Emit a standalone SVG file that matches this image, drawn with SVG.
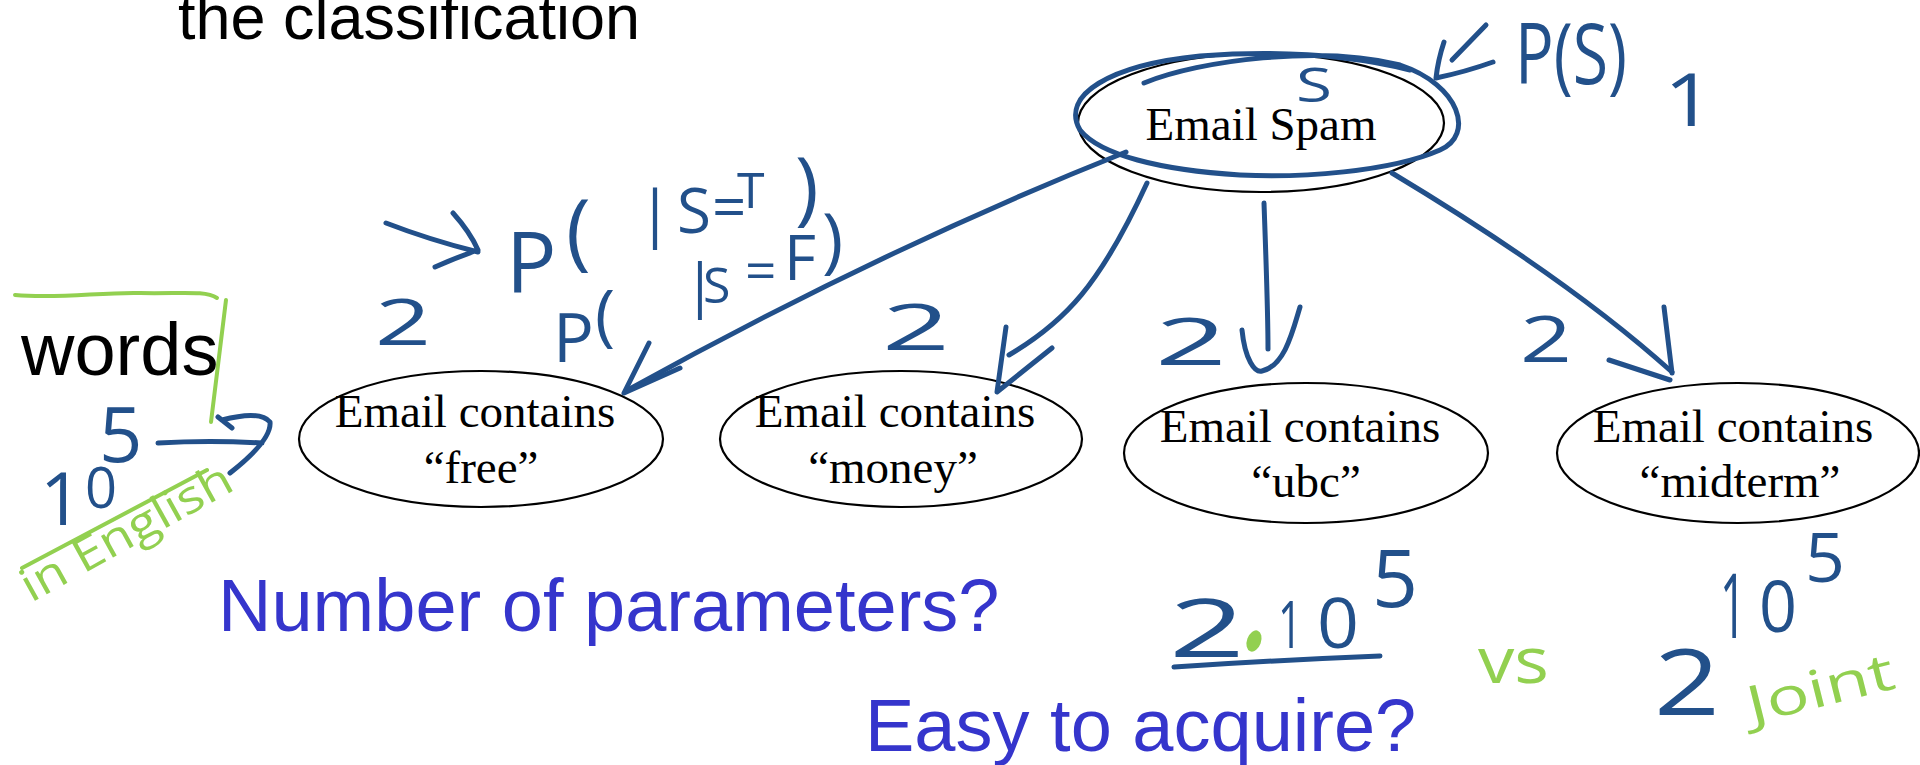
<svg xmlns="http://www.w3.org/2000/svg" width="1920" height="765" viewBox="0 0 1920 765">
  <style>
    .node ellipse { fill: none; stroke: #000; stroke-width: 2.2; }
    .lbl { font-family: "Liberation Serif", "Times New Roman", serif; font-size: 47px; fill: #000; text-anchor: middle; }
    .head { font-family: "Liberation Sans", Arial, sans-serif; fill: #000; }
    .q { font-family: "Liberation Sans", Arial, sans-serif; font-size: 74px; fill: #3535cc; }
    .ink { fill: none; stroke: #22508a; stroke-width: 5; stroke-linecap: round; stroke-linejoin: round; }
    .inkg { fill: none; stroke: #92d050; stroke-width: 4; stroke-linecap: round; stroke-linejoin: round; }
    .hw { font-family: "Open Sans", "DejaVu Sans", sans-serif; fill: #22508a; }
    .hwg { font-family: "Open Sans", "DejaVu Sans", sans-serif; fill: #92d050; }
  </style>

  <rect width="1920" height="765" fill="#fff"/>

  <!-- printed slide text -->
  <text class="head" x="178" y="39" font-size="63" textLength="462" lengthAdjust="spacingAndGlyphs">the classification</text>
  <text class="head" x="21" y="375" font-size="74">words</text>
  <text class="q" x="218" y="631">Number of parameters?</text>
  <text class="q" x="865" y="751">Easy to acquire?</text>

  <!-- nodes -->
  <g id="spam" class="node">
    <ellipse cx="1261" cy="123" rx="183" ry="69"/>
    <text class="lbl" x="1261" y="140">Email Spam</text>
  </g>
  <g id="free" class="node">
    <ellipse cx="481" cy="439" rx="182" ry="68"/>
    <text class="lbl" x="475" y="427">Email contains</text>
    <text class="lbl" x="481" y="483">“free”</text>
  </g>
  <g id="money" class="node">
    <ellipse cx="901" cy="439" rx="181" ry="68"/>
    <text class="lbl" x="895" y="427">Email contains</text>
    <text class="lbl" x="893" y="483">“money”</text>
  </g>
  <g id="ubc" class="node">
    <ellipse cx="1306" cy="453" rx="182" ry="70"/>
    <text class="lbl" x="1300" y="442">Email contains</text>
    <text class="lbl" x="1306" y="497">“ubc”</text>
  </g>
  <g id="midterm" class="node">
    <ellipse cx="1738" cy="453" rx="181" ry="70"/>
    <text class="lbl" x="1733" y="442">Email contains</text>
    <text class="lbl" x="1740" y="497">“midterm”</text>
  </g>

  <!-- hand-drawn connectors from the spam node to each word node -->
  <g id="connectors" class="ink">
    <path d="M1126,152 Q880,250 626,391"/>
    <path d="M649,343 L624,393 L680,368"/>
    <path d="M1147,183 C1100,285 1065,322 1009,355"/>
    <path d="M1006,327 L997,392 L1052,348"/>
    <path d="M1264,203 C1266,260 1268,310 1268,349"/>
    <path d="M1242,330 C1245,360 1255,373 1262,371 C1285,366 1293,330 1300,307"/>
    <path d="M1392,173 Q1570,280 1672,372"/>
    <path d="M1664,307 L1672,373 M1609,360 L1670,380"/>
  </g>

  <!-- blue ink annotations -->
  <g id="ink-notes">
    <path class="ink" d="M1144,83 C1200,60 1320,45 1400,65 C1460,85 1475,135 1440,150 C1390,172 1300,178 1240,175 C1160,170 1100,155 1080,130 C1060,95 1110,65 1200,56 C1280,50 1350,55 1410,70"/>
    <text class="hw" x="1296" y="102" font-size="48" textLength="36" lengthAdjust="spacingAndGlyphs">S</text>

    <path class="ink" d="M1486,25 L1452,60 M1444,42 Q1438,60 1436,78 Q1465,72 1493,62"/>
    <text class="hw" x="1515" y="84" font-size="84" textLength="112" lengthAdjust="spacingAndGlyphs">P(S)</text>
    <text class="hw" x="1664" y="126" font-size="74" textLength="50" lengthAdjust="spacingAndGlyphs">1</text>

    <text class="hw" x="375" y="345" font-size="64" textLength="56" lengthAdjust="spacingAndGlyphs">2</text>
    <text class="hw" x="882" y="350" font-size="64" textLength="68" lengthAdjust="spacingAndGlyphs">2</text>
    <text class="hw" x="1155" y="365" font-size="66" textLength="72" lengthAdjust="spacingAndGlyphs">2</text>
    <text class="hw" x="1520" y="362" font-size="64" textLength="52" lengthAdjust="spacingAndGlyphs">2</text>

    <path class="ink" d="M386,223 Q430,240 478,252 M453,213 Q470,232 478,250 Q455,258 435,267"/>
    <text class="hw" font-size="84" x="506" y="293">P</text>
    <text class="hw" font-size="84" x="566" y="260">(</text>
    <text class="hw" font-size="62" x="638" y="235">|</text>
    <text class="hw" font-size="62" x="677" y="233">S</text>
    <text class="hw" font-size="60" x="712" y="228">=</text>
    <text class="hw" font-size="50" x="737" y="208">T</text>
    <text class="hw" font-size="80" x="795" y="215">)</text>

    <text class="hw" font-size="68" x="553" y="362">P</text>
    <text class="hw" font-size="68" x="595" y="338">(</text>
    <text class="hw" font-size="58" x="684" y="306">|</text>
    <text class="hw" font-size="50" x="703" y="303">S</text>
    <text class="hw" font-size="55" x="745" y="290">=</text>
    <text class="hw" font-size="62" x="784" y="280">F</text>
    <text class="hw" font-size="72" x="822" y="265">)</text>

    <text class="hw" font-size="74" x="40" y="525">1</text>
    <text class="hw" font-size="56" x="85" y="508">0</text>
    <text class="hw" font-size="76" x="99" y="462">5</text>
    <path class="ink" d="M158,443 Q210,440 262,443 M218,417 L232,428 M222,420 Q260,410 270,422 Q272,440 230,473"/>

    <text class="hw" font-size="80" x="1169" y="657" textLength="76" lengthAdjust="spacingAndGlyphs">2</text>
    <text class="hw" font-size="66" x="1278" y="648" textLength="24" lengthAdjust="spacingAndGlyphs">1</text>
    <text class="hw" font-size="70" x="1317" y="648" textLength="42" lengthAdjust="spacingAndGlyphs">0</text>
    <text class="hw" font-size="80" x="1372" y="607" textLength="46" lengthAdjust="spacingAndGlyphs">5</text>
    <path class="ink" d="M1174,667 Q1280,660 1380,656"/>

    <text class="hw" font-size="92" x="1654" y="715" textLength="66" lengthAdjust="spacingAndGlyphs">2</text>
    <text class="hw" font-size="90" x="1720" y="638" textLength="26" lengthAdjust="spacingAndGlyphs">1</text>
    <text class="hw" font-size="72" x="1759" y="632" textLength="38" lengthAdjust="spacingAndGlyphs">0</text>
    <text class="hw" font-size="68" x="1805" y="582" textLength="40" lengthAdjust="spacingAndGlyphs">5</text>
  </g>

  <!-- green ink annotations -->
  <g id="green-notes">
    <path class="inkg" d="M15,295 C60,299 100,292 140,293 C180,294 205,290 217,298"/>
    <path class="inkg" d="M226,300 L211,422"/>
    <path class="inkg" d="M22,568 L207,470"/>
    <text class="hwg" font-size="46" transform="translate(31,603) rotate(-29)" textLength="235" lengthAdjust="spacingAndGlyphs">in English</text>
    <ellipse cx="1254" cy="641" rx="7" ry="11" fill="#92d050" transform="rotate(20 1254 641)"/>
    <text class="hwg" font-size="64" x="1478" y="683" textLength="71" lengthAdjust="spacingAndGlyphs">vs</text>
    <text class="hwg" font-size="52" transform="translate(1752,724) rotate(-14)" textLength="150" lengthAdjust="spacingAndGlyphs">Joint</text>
  </g>
</svg>
